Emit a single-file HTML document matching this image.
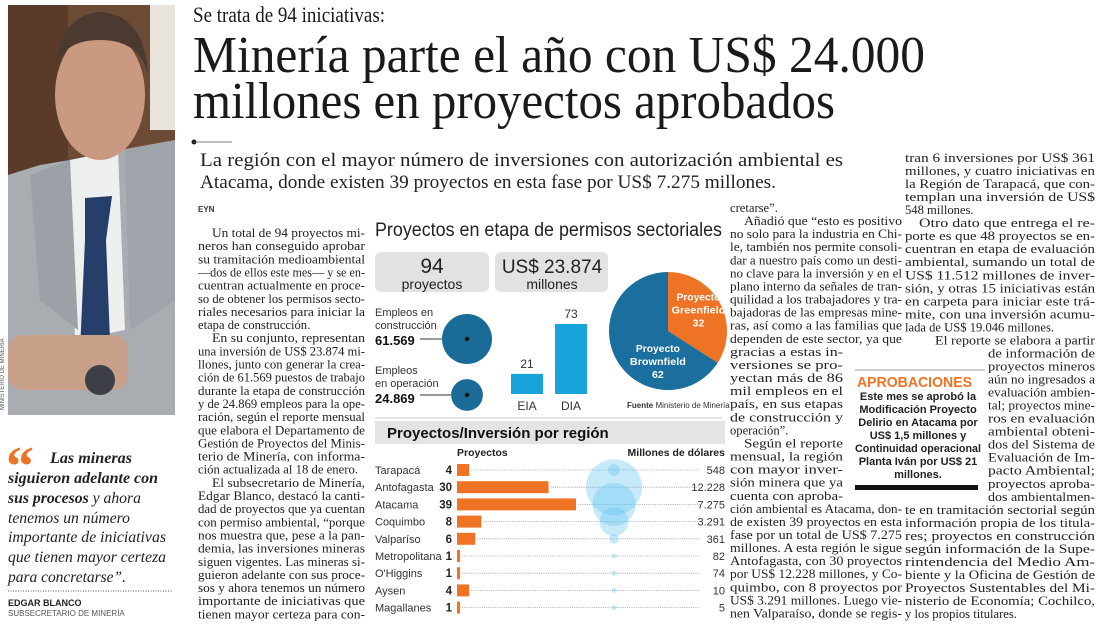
<!DOCTYPE html>
<html><head><meta charset="utf-8">
<style>
html,body{margin:0;padding:0;background:#fff;}
svg{display:block;}
.b{font-family:"Liberation Serif",serif;font-size:12.6px;fill:#222;}
.s{font-family:"Liberation Sans",sans-serif;}
</style></head>
<body>
<svg id="pg" width="1100" height="634" viewBox="0 0 1100 634" xmlns="http://www.w3.org/2000/svg">
<g>
<rect x="8" y="5" width="167" height="410" fill="#6b4a36"/>
<rect x="150" y="5" width="25" height="125" fill="#e8e4dc"/>
<rect x="8" y="5" width="60" height="170" fill="#5a3b2a"/>
<path d="M8 175 L40 165 L70 160 L120 150 L175 140 L175 415 L8 415 Z" fill="#a9adb2"/>
<path d="M70 160 L118 150 L125 330 L75 340 Z" fill="#eef0f0"/>
<path d="M85 198 L112 196 L106 240 L110 340 L80 350 L85 240 Z" fill="#263f6a"/>
<path d="M30 175 L70 160 L78 330 L40 300 Z" fill="#9ca1a7"/>
<path d="M125 150 L175 140 L175 300 L130 330 Z" fill="#9fa4aa"/>
<ellipse cx="100" cy="95" rx="45" ry="65" fill="#c99a80"/>
<path d="M55 70 Q60 15 100 12 Q145 15 148 75 Q140 40 100 40 Q62 40 55 70 Z" fill="#4a3a30"/>
<rect x="8" y="335" width="120" height="55" rx="15" fill="#c8a08a"/>
<circle cx="100" cy="380" r="15" fill="#3b3e44"/>
<text x="4" y="410" transform="rotate(-90 4 410)" class="s" font-size="6" fill="#555">MINISTERIO DE MINERÍA</text>
</g>
<g>
<text x="6" y="485" font-family="Liberation Serif,serif" font-weight="bold" font-size="56" fill="#ee7325">“</text>
<g font-family="Liberation Serif,serif" font-style="italic" font-size="16" fill="#222">
<text x="50" y="463" font-weight="bold" textLength="82" lengthAdjust="spacingAndGlyphs">Las mineras</text>
<text x="8" y="483" font-weight="bold" textLength="150" lengthAdjust="spacingAndGlyphs">siguieron adelante con</text>
<text x="8" y="503" textLength="133" lengthAdjust="spacingAndGlyphs"><tspan font-weight="bold">sus procesos</tspan> y ahora</text>
<text x="8" y="523" textLength="122" lengthAdjust="spacingAndGlyphs">tenemos un número</text>
<text x="8" y="542" textLength="158" lengthAdjust="spacingAndGlyphs">importante de iniciativas</text>
<text x="8" y="562" textLength="158" lengthAdjust="spacingAndGlyphs">que tienen mayor certeza</text>
<text x="8" y="582" textLength="118" lengthAdjust="spacingAndGlyphs">para concretarse”.</text>
</g>
<line x1="8" y1="591" x2="172" y2="591" stroke="#555" stroke-dasharray="1 1.5"/>
<text x="8" y="606" class="s" font-size="9" font-weight="bold" fill="#222">EDGAR BLANCO</text>
<text x="8" y="616" class="s" font-size="8" fill="#555">SUBSECRETARIO DE MINERÍA</text>
</g>
<g font-family="Liberation Serif,serif" fill="#1a1a1a">
<text x="193" y="22" font-size="22" textLength="192" lengthAdjust="spacingAndGlyphs">Se trata de 94 iniciativas:</text>
<text x="193" y="72" font-size="52" textLength="732" lengthAdjust="spacingAndGlyphs">Minería parte el año con US$ 24.000</text>
<text x="193" y="118" font-size="52" textLength="642" lengthAdjust="spacingAndGlyphs">millones en proyectos aprobados</text>
</g>
<circle cx="194" cy="142" r="2.5" fill="#222"/>
<line x1="194" y1="142" x2="232" y2="142" stroke="#555" stroke-width="0.8"/>
<g font-family="Liberation Serif,serif" font-size="19" fill="#222">
<text x="200" y="166" textLength="643" lengthAdjust="spacingAndGlyphs">La región con el mayor número de inversiones con autorización ambiental es</text>
<text x="200" y="188" textLength="576" lengthAdjust="spacingAndGlyphs">Atacama, donde existen 39 proyectos en esta fase por US$ 7.275 millones.</text>
</g>
<text x="198" y="212" class="s" font-size="8" font-weight="bold" fill="#333">EYN</text>
<g id="body"></g>

<g>
<line x1="855" y1="370" x2="985" y2="370" stroke="#999" stroke-width="1"/>
<text x="857" y="387" class="s" font-size="15" font-weight="bold" fill="#ee7325" textLength="115" lengthAdjust="spacingAndGlyphs">APROBACIONES</text>
<g class="s" font-size="11" font-weight="bold" fill="#222" text-anchor="middle">
<text x="918" y="400">Este mes se aprobó la</text>
<text x="918" y="413">Modificación Proyecto</text>
<text x="918" y="426">Delirio en Atacama por</text>
<text x="918" y="439">US$ 1,5 millones y</text>
<text x="918" y="452" textLength="126" lengthAdjust="spacingAndGlyphs">Continuidad operacional</text>
<text x="918" y="465">Planta Iván por US$ 21</text>
<text x="918" y="478">millones.</text>
</g>
<rect x="855" y="485" width="123" height="5" fill="#111"/>
</g>

<g id="c1">
<text x="375" y="236" class="s" font-size="19" fill="#222" textLength="347" lengthAdjust="spacingAndGlyphs">Proyectos en etapa de permisos sectoriales</text>
<rect x="375" y="252" width="114" height="40" rx="6" fill="#e2e2e2"/>
<rect x="495" y="252" width="113" height="40" rx="6" fill="#e2e2e2"/>
<g class="s" fill="#222" text-anchor="middle">
<text x="432" y="273" font-size="21">94</text>
<text x="432" y="289" font-size="14">proyectos</text>
<text x="552" y="273" font-size="19">US$ 23.874</text>
<text x="552" y="289" font-size="14">millones</text>
</g>
<g class="s" font-size="11" fill="#333">
<text x="375" y="316">Empleos en</text>
<text x="375" y="329">construcción</text>
<text x="375" y="345" font-size="13" font-weight="bold" fill="#111">61.569</text>
<text x="375" y="374">Empleos</text>
<text x="375" y="387">en operación</text>
<text x="375" y="403" font-size="13" font-weight="bold" fill="#111">24.869</text>
<text x="627" y="408" font-size="8" font-weight="bold">Fuente <tspan font-weight="normal">Ministerio de Minería</tspan></text>
</g>
<line x1="375" y1="418" x2="722" y2="418" stroke="#ccc"/>
</g>

<g id="c2">
<rect x="375" y="421" width="350" height="23" fill="#e4e4e4"/>
<text x="387" y="438" class="s" font-size="15" font-weight="bold" fill="#111">Proyectos/Inversión por región</text>
<text x="457" y="456" class="s" font-size="10.5" font-weight="bold" fill="#222">Proyectos</text>
<text x="725" y="456" class="s" font-size="10.5" font-weight="bold" fill="#222" text-anchor="end">Millones de dólares</text>
</g>
</svg>

<script>
var employLabels = ["construccion","operacion"];
var employValues = [61569, 24869];
var permitTypes = ["EIA","DIA"];
var permitCounts = [21, 73];
var pieLabels = ["Greenfield","Brownfield"];
var pieValues = [32, 62];
var regions = ["Tarapacá","Antofagasta","Atacama","Coquimbo","Valparíso","Metropolitana","O'Higgins","Aysen","Magallanes"];
var regionProjects = [4,30,39,8,6,1,1,4,1];
var regionInvestment = [548,12228,7275,3291,361,82,74,10,5];
var regionInvestmentLabels = ["548","12.228","7.275","3.291","361","82","74","10","5"];

var NS = "http://www.w3.org/2000/svg";
function mk(tag, attrs, parent){var e=document.createElementNS(NS,tag);for(var k in attrs)e.setAttribute(k,attrs[k]);(parent||document.getElementById('pg')).appendChild(e);return e;}

var c1 = document.getElementById('c1');
var c2 = document.getElementById('c2');

var empMax = Math.max.apply(null, employValues);
var empCy = [339, 395];
var empLineStart = 420;
for (var i=0;i<employValues.length;i++){
  var r = 25*Math.sqrt(employValues[i]/empMax);
  var cx = 467;
  var ln = mk('line',{x1:empLineStart,y1:empCy[i],x2:cx,y2:empCy[i],stroke:'#333','stroke-width':1},c1);
  
  
  var c = mk('circle',{cx:cx,cy:empCy[i],r:r,fill:'#1b6b99'},c1);
  
  
  mk('circle',{cx:cx,cy:empCy[i],r:2.2,fill:'#111'},c1);
}

var barBase = 394, barScale = 70/73;
function by(v){return barBase - v*barScale;}
var barX = [511, 555];
for (var i=0;i<permitCounts.length;i++){
  var b = mk('rect',{x:barX[i],y:by(permitCounts[i]),width:32,height:barBase-by(permitCounts[i]),fill:'#19a3dc'},c1);
  
  
  var t = mk('text',{x:barX[i]+16,y:by(permitCounts[i])-6,'text-anchor':'middle','font-size':12,'font-family':'Liberation Sans,sans-serif',fill:'#333'},c1);
  t.textContent = permitCounts[i];
  var l = mk('text',{x:barX[i]+16,y:410,'text-anchor':'middle','font-size':12,'font-family':'Liberation Sans,sans-serif',fill:'#333'},c1);
  l.textContent = permitTypes[i];
}

var pcx=668, pcy=331, pr=59;
var tot = pieValues[0]+pieValues[1];
var pieColors = ['#ee7325','#1b6f9e'];
var a0 = 0;
var pieText = [["Proyecto","Greenfield"],["Proyecto","Brownfield"]];
var labDx = [2, 8], labDy = [-15, 11];
var labW = [[44,54],[44,56]];
for (var i=0;i<pieValues.length;i++){
  var a1 = a0 + pieValues[i]/tot*2*Math.PI;
  var x0=pcx+pr*Math.sin(a0), y0=pcy-pr*Math.cos(a0), x1=pcx+pr*Math.sin(a1), y1=pcy-pr*Math.cos(a1);
  var large = (a1-a0)>Math.PI?1:0;
  var p = mk('path',{d:'M'+pcx+' '+pcy+' L'+x0+' '+y0+' A'+pr+' '+pr+' 0 '+large+' 1 '+x1+' '+y1+' Z',fill:pieColors[i]},c1);
  
  
  var am=(a0+a1)/2, rr = i==0?0.55:0.35;
  var tx = pcx+pr*rr*Math.sin(am)+labDx[i], ty = pcy-pr*rr*Math.cos(am)+labDy[i];
  var lines=[pieText[i][0],pieText[i][1],String(pieValues[i])];
  for (var j=0;j<3;j++){
    var at = {x:tx,y:ty+j*13,'text-anchor':'middle','font-size':10.5,'font-weight':'bold','font-family':'Liberation Sans,sans-serif',fill:'#fff'};
    if (j<2){at.textLength=labW[i][j]; at.lengthAdjust='spacingAndGlyphs';}
    var tt = mk('text',at,c1);
    tt.textContent = lines[j];
  }
  a0=a1;
}

var rowY0 = 470, rowStep = 17.2;
function ry(i){return rowY0 + i*rowStep;}
var barX0 = 457, pxPerProj = 119/39;
function bw(v){return v*pxPerProj;}
var bubbleX = 614, invMax = Math.max.apply(null, regionInvestment);
function br(v){return 28*Math.sqrt(v/invMax);}
for (var i=0;i<regions.length;i++){
  var y = ry(i);
  var lab = mk('text',{x:375,y:y+4,'font-size':11,'font-family':'Liberation Sans,sans-serif',fill:'#333'},c2);
  lab.textContent = regions[i];
  
  
  var cnt = mk('text',{x:452,y:y+4,'text-anchor':'end','font-size':11.5,'font-weight':'bold','font-family':'Liberation Sans,sans-serif',fill:'#222'},c2);
  cnt.textContent = regionProjects[i];
  var dl = mk('line',{x1:barX0+bw(regionProjects[i])+2,y1:y,x2:700,y2:y,stroke:'#999','stroke-width':0.8,'stroke-dasharray':'1 1.2'},c2);
  
  
  var bar = mk('rect',{x:barX0,y:y-6,width:bw(regionProjects[i]),height:12,fill:'#ee7325'},c2);
  
  
  var val = mk('text',{x:725,y:y+4,'text-anchor':'end','font-size':11,'font-family':'Liberation Sans,sans-serif',fill:'#333'},c2);
  val.textContent = regionInvestmentLabels[i];
}
for (var i=0;i<regions.length;i++){
  var bub = mk('circle',{cx:bubbleX,cy:ry(i),r:Math.max(br(regionInvestment[i]),2.5),fill:'#5fc3f0','fill-opacity':0.35},c2);
  
  
}

var body = document.getElementById('body');
function col(lines, y0, step){
  for (var i=0;i<lines.length;i++){
    var L = lines[i];
    var attrs = {x:L[1], y:y0+i*step, 'class':'b'};
    if (L[2]>0){attrs.textLength=L[2]; attrs.lengthAdjust='spacingAndGlyphs';}
    var t = mk('text',attrs,body);
    t.textContent = L[0];
  }
}
var F1=167;
col([
["Un total de 94 proyectos mi-",212,153],
["neros han conseguido aprobar",198,F1],
["su tramitación medioambiental",198,F1],
["—dos de ellos este mes— y se en-",198,F1],
["cuentran actualmente en proce-",198,F1],
["so de obtener los permisos secto-",198,F1],
["riales necesarios para iniciar la",198,F1],
["etapa de construcción.",198,0],
["En su conjunto, representan",212,153],
["una inversión de US$ 23.874 mi-",198,F1],
["llones, junto con generar la crea-",198,F1],
["ción de 61.569 puestos de trabajo",198,F1],
["durante la etapa de construcción",198,F1],
["y de 24.869 empleos para la ope-",198,F1],
["ración, según el reporte mensual",198,F1],
["que elabora el Departamento de",198,F1],
["Gestión de Proyectos del Minis-",198,F1],
["terio de Minería, con informa-",198,F1],
["ción actualizada al 18 de enero.",198,160],
["El subsecretario de Minería,",212,153],
["Edgar Blanco, destacó la canti-",198,F1],
["dad de proyectos que ya cuentan",198,F1],
["con permiso ambiental, “porque",198,F1],
["nos muestra que, pese a la pan-",198,F1],
["demia, las inversiones mineras",198,F1],
["siguen vigentes. Las mineras si-",198,F1],
["guieron adelante con sus proce-",198,F1],
["sos y ahora tenemos un número",198,F1],
["importante de iniciativas que",198,F1],
["tienen mayor certeza para con-",198,F1]
],237,13.15);
var F3=172, N3=113;
col([
["cretarse”.",730,0],
["Añadió que “esto es positivo",744,158],
["no solo para la industria en Chi-",730,F3],
["le, también nos permite consoli-",730,F3],
["dar a nuestro país como un desti-",730,F3],
["no clave para la inversión y en el",730,F3],
["plano interno da señales de tran-",730,F3],
["quilidad a los trabajadores y tra-",730,F3],
["bajadoras de las empresas mine-",730,F3],
["ras, así como a las familias que",730,F3],
["dependen de este sector, ya que",730,F3],
["gracias a estas in-",730,N3],
["versiones se pro-",730,N3],
["yectan más de 86",730,N3],
["mil empleos en el",730,N3],
["país, en sus etapas",730,N3],
["de construcción y",730,N3],
["operación”.",730,0],
["Según el reporte",744,99],
["mensual, la región",730,N3],
["con mayor inver-",730,N3],
["sión minera que ya",730,N3],
["cuenta con aproba-",730,N3],
["ción ambiental es Atacama, don-",730,F3],
["de existen 39 proyectos en esta",730,F3],
["fase por un total de US$ 7.275",730,F3],
["millones. A esta región le sigue",730,F3],
["Antofagasta, con 30 proyectos",730,F3],
["por US$ 12.228 millones, y Co-",730,F3],
["quimbo, con 8 proyectos por",730,F3],
["US$ 3.291 millones. Luego vie-",730,F3],
["nen Valparaíso, donde se regis-",730,F3]
],212,13.08);
var F4=190, N4=107;
col([
["tran 6 inversiones por US$ 361",905,F4],
["millones, y cuatro iniciativas en",905,F4],
["la Región de Tarapacá, que con-",905,F4],
["templan una inversión de US$",905,F4],
["548 millones.",905,0],
["Otro dato que entrega el re-",919,176],
["porte es que 48 proyectos se en-",905,F4],
["cuentran en etapa de evaluación",905,F4],
["ambiental, sumando un total de",905,F4],
["US$ 11.512 millones de inver-",905,F4],
["sión, y otras 15 iniciativas están",905,F4],
["en carpeta para iniciar este trá-",905,F4],
["mite, con una inversión acumu-",905,F4],
["lada de US$ 19.046 millones.",905,0],
["El reporte se elabora a partir",935,160],
["de información de",988,N4],
["proyectos mineros",988,N4],
["aún no ingresados a",988,N4],
["evaluación ambien-",988,N4],
["tal; proyectos mine-",988,N4],
["ros en evaluación",988,N4],
["ambiental obteni-",988,N4],
["dos del Sistema de",988,N4],
["Evaluación de Im-",988,N4],
["pacto Ambiental;",988,N4],
["proyectos aproba-",988,N4],
["dos ambientalmen-",988,N4],
["te en tramitación sectorial según",905,F4],
["información propia de los titula-",905,F4],
["res; proyectos en construcción",905,F4],
["según información de la Supe-",905,F4],
["rintendencia del Medio Am-",905,F4],
["biente y la Oficina de Gestión de",905,F4],
["Proyectos Sustentables del Mi-",905,F4],
["nisterio de Economía; Cochilco,",905,F4],
["y los propios titulares.",905,0]
],162,13.03);
</script>
</body></html>
